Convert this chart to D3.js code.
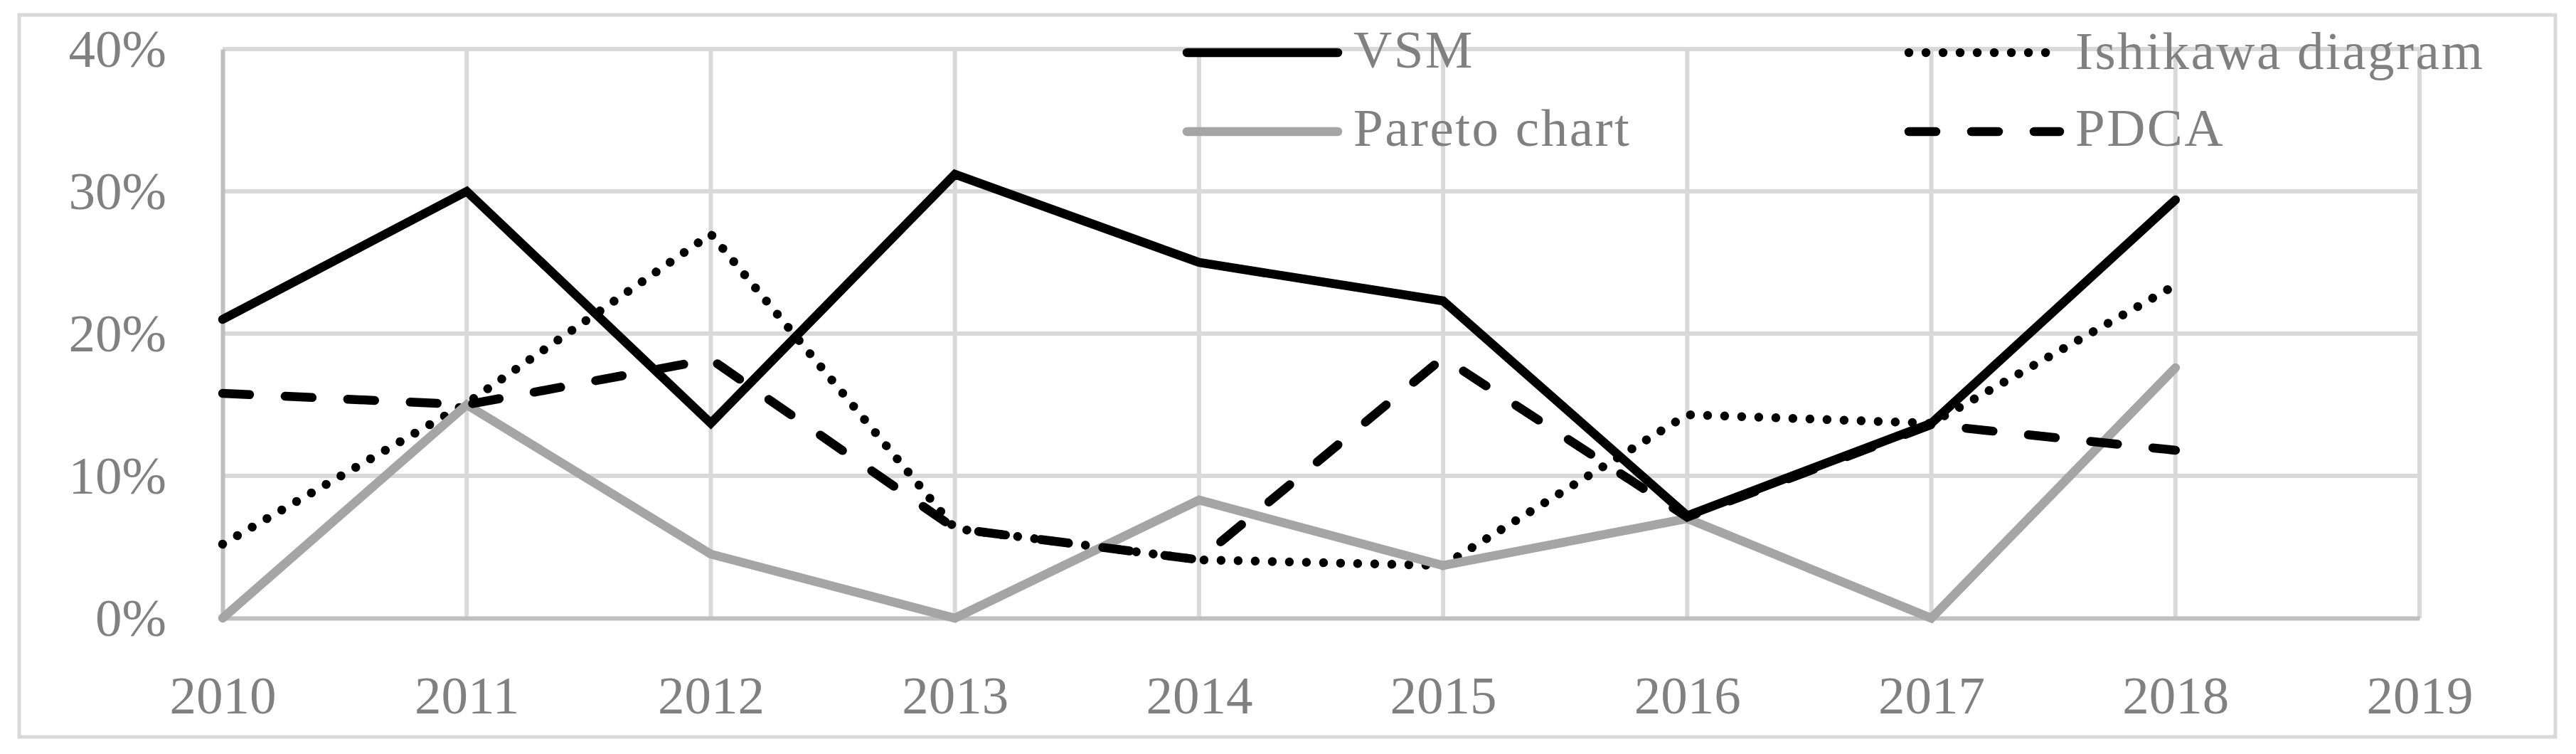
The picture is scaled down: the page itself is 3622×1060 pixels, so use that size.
<!DOCTYPE html>
<html>
<head>
<meta charset="utf-8">
<script src="https://cdn.jsdelivr.net/npm/d3@7"></script>
<style>
  html, body { margin: 0; padding: 0; background: #ffffff; }
  svg { display: block; }
</style>
</head>
<body>
<script>
// ---- data ----
const years = ["2010","2011","2012","2013","2014","2015","2016","2017","2018","2019"];
const yTicks = [0, 0.1, 0.2, 0.3, 0.4];
const seriesNames = ["VSM", "Ishikawa diagram", "Pareto chart", "PDCA"];
const vsm      = [0.210, 0.300, 0.137, 0.312, 0.250, 0.223, 0.072, 0.137, 0.294];
const ishikawa = [0.052, 0.151, 0.270, 0.063, 0.041, 0.037, 0.143, 0.137, 0.234];
const pareto   = [0.000, 0.150, 0.045, 0.000, 0.083, 0.037, 0.070, 0.000, 0.176];
const pdca     = [0.158, 0.150, 0.182, 0.063, 0.041, 0.183, 0.071, 0.136, 0.118];

// ---- styles ----
const W = 3622, H = 1060;
const textColor = "#808080";
const gridColor = "#d9d9d9";
const axisColor = "#bfbfbf";
const fontFamily = "'Liberation Serif', 'Times New Roman', serif";
const fontSize = 75;
const lineW = 12.5;
const styles = [
  { color: "#000000", dash: null },
  { color: "#000000", dash: "0.01,24" },
  { color: "#a5a5a5", dash: null },
  { color: "#000000", dash: "38,50" }
];
const seriesData = [vsm, ishikawa, pareto, pdca];

const svg = d3.select("body").append("svg").attr("width", W).attr("height", H);

// outer border
svg.append("rect")
  .attr("x", 27).attr("y", 21).attr("width", 3593 - 27).attr("height", 1036 - 21)
  .attr("fill", "none").attr("stroke", gridColor).attr("stroke-width", 5);

const x = d3.scalePoint().domain(years).range([313, 3402]);
const y = d3.scaleLinear().domain([0, 0.4]).range([869, 69]);

// horizontal gridlines
svg.append("g").selectAll("line").data(yTicks.filter(d => d > 0)).join("line")
  .attr("x1", x(years[0])).attr("x2", x(years[years.length - 1]))
  .attr("y1", d => y(d)).attr("y2", d => y(d))
  .attr("stroke", gridColor).attr("stroke-width", 6);

// vertical gridlines
svg.append("g").selectAll("line").data(years.slice(1)).join("line")
  .attr("x1", d => x(d)).attr("x2", d => x(d))
  .attr("y1", y(0.4)).attr("y2", y(0))
  .attr("stroke", gridColor).attr("stroke-width", 6);

// axes
const yAxis = d3.axisLeft(y).tickValues(yTicks).tickSize(0).tickPadding(79)
  .tickFormat(d => Math.round(d * 100) + "%");
const gy = svg.append("g").attr("transform", `translate(${x(years[0])},0)`).call(yAxis);
gy.select(".domain").attr("stroke", axisColor).attr("stroke-width", 6);
gy.selectAll("text").attr("fill", textColor).attr("font-family", fontFamily).attr("font-size", fontSize);

const xAxis = d3.axisBottom(x).tickSize(0).tickPadding(81);
const gx = svg.append("g").attr("transform", `translate(0,${y(0)})`).call(xAxis);
gx.select(".domain").attr("stroke", axisColor).attr("stroke-width", 6);
gx.selectAll("text").attr("fill", textColor).attr("font-family", fontFamily).attr("font-size", fontSize);

// series lines
const line = d3.line().x((d, i) => x(years[i])).y(d => y(d));
seriesData.forEach((data, k) => {
  svg.append("path")
    .attr("d", line(data))
    .attr("fill", "none")
    .attr("stroke", styles[k].color)
    .attr("stroke-width", lineW)
    .attr("stroke-linecap", "round")
    .attr("stroke-linejoin", "miter")
    .attr("stroke-dasharray", styles[k].dash);
});

// legend (2 columns x 2 rows)
const legendPos = [
  { lx: 1669, ly: 74, ty: 95 },
  { lx: 2684, ly: 74, ty: 97 },
  { lx: 1669, ly: 185, ty: 205 },
  { lx: 2684, ly: 185, ty: 205 }
];
const lg = svg.append("g");
seriesNames.forEach((name, k) => {
  const p = legendPos[k];
  lg.append("line")
    .attr("x1", p.lx).attr("x2", p.lx + 212)
    .attr("y1", p.ly).attr("y2", p.ly)
    .attr("stroke", styles[k].color)
    .attr("stroke-width", lineW)
    .attr("stroke-linecap", "round")
    .attr("stroke-dasharray", styles[k].dash);
  lg.append("text")
    .attr("x", p.lx + 234).attr("y", p.ty)
    .attr("fill", textColor).attr("font-family", fontFamily).attr("font-size", fontSize)
    .attr("letter-spacing", 2.5)
    .text(name);
});
</script>
</body>
</html>
